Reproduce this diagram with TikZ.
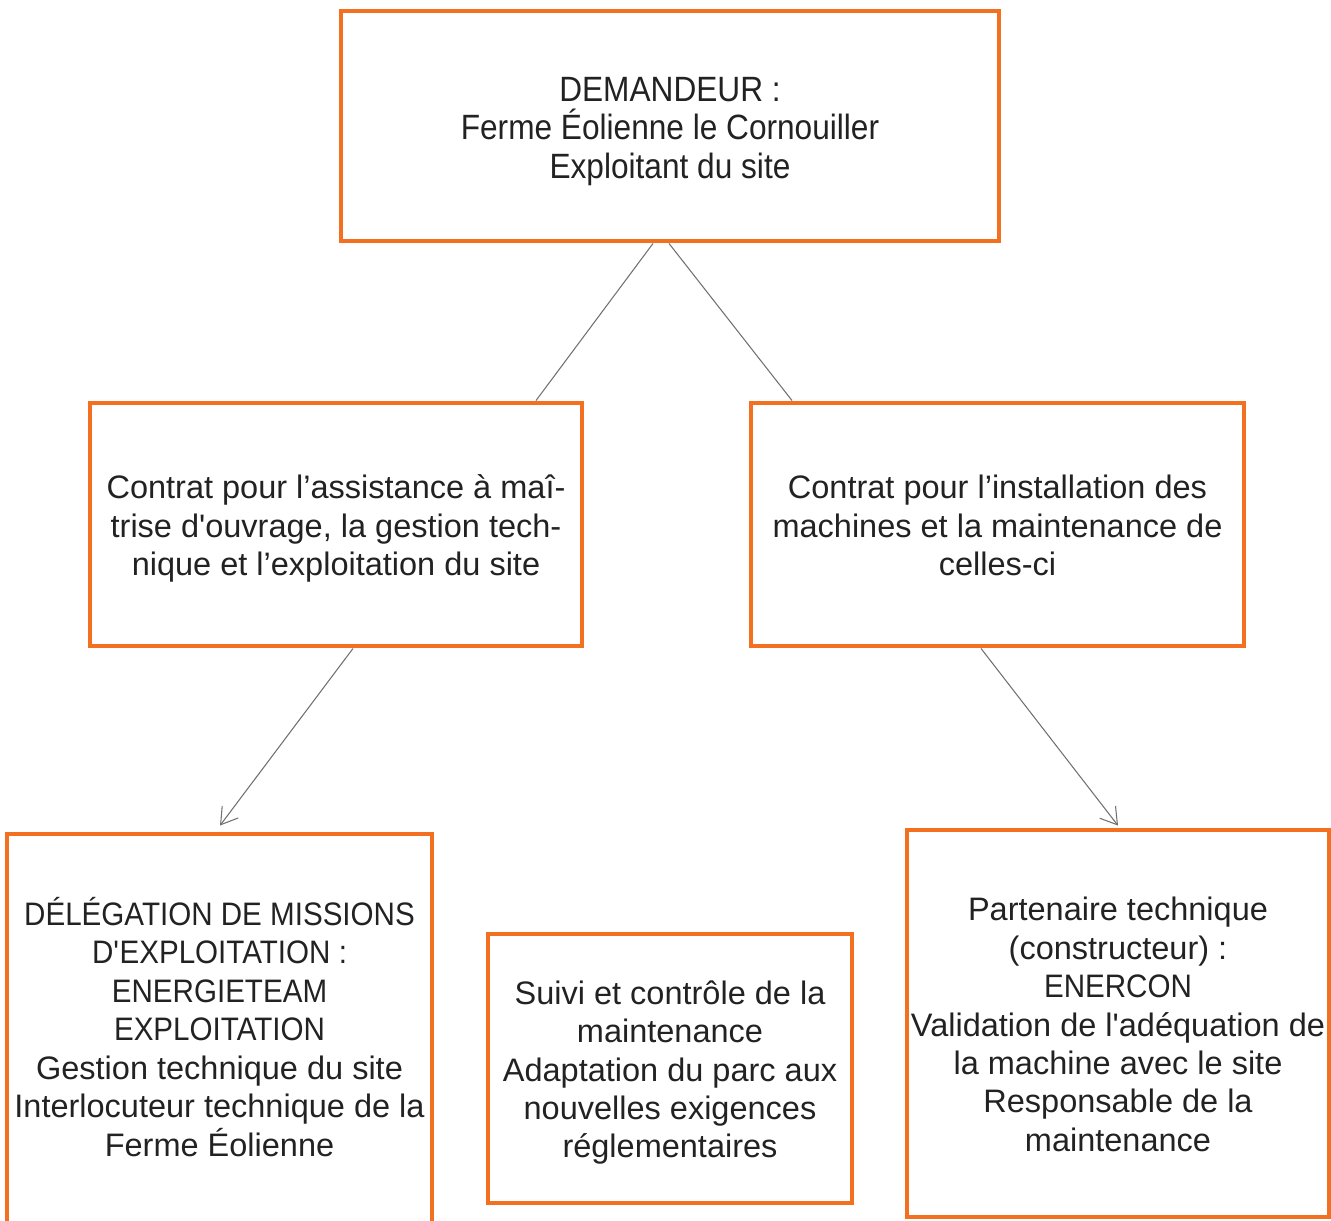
\documentclass[tikz,border=0pt]{standalone}
\usepackage{fontspec}
\setmainfont{Liberation Sans}
\newfontfamily\narrowfont[FakeStretch=0.9]{Liberation Sans}	%top box
\newfontfamily\capsfont[FakeStretch=0.91]{Liberation Sans}		%upper case lines
\usetikzlibrary{calc,arrows.meta}

\definecolor{boxorange}{RGB}{243,112,33}
\definecolor{linkgray}{RGB}{112,112,112}
\definecolor{inkgray}{RGB}{34,34,34}

\newcommand{\lt}{\rule{0pt}{0.99em}}						%same first line height in every box
\newcommand{\linebot}{\rule[-\botdepth]{0pt}{\botdepth}}	%same last line depth
\newcommand{\sq}{\textquotesingle}

\tikzset{
	bot/.store in=\botdepth, bot=0.22em,
	box/.style={draw=boxorange, line width=2.8pt, align=center, text=inkgray,
		font=\fontsize{18.5}{21.9}\selectfont, inner sep=0pt,
		execute at end node=\linebot},
	link/.style={draw=linkgray, line width=0.6pt},
	linkarrow/.style={link, -{Straight Barb[length=3.2mm, width=4mm, line width=0.6pt]}}
}

\begin{document}
\begin{tikzpicture}[x=0.02cm, y=-0.02cm]
	\clip (0,0) rectangle (1331,1220);		%page frame of the reference

	%top level
	\node[box, minimum width=658*0.02cm, minimum height=230*0.02cm, font=\narrowfont\fontsize{20}{21.9}\selectfont] (dem) at (670,126)
		{\lt DEMANDEUR :\\Ferme Éolienne le Cornouiller\\Exploitant du site};

	%contracts
	\node[box, minimum width=492*0.02cm, minimum height=243*0.02cm] (amo) at (336,524.5)
		{\lt Contrat pour l'assistance à maî-\\trise d\sq ouvrage, la gestion tech-\\nique et l'exploitation du site};
	\node[box, minimum width=493*0.02cm, minimum height=243*0.02cm] (inst) at (997.5,524.5)
		{\lt Contrat pour l'installation des\\machines et la maintenance de\\celles-ci};

	%partners
	\node[box, bot=0.29em, minimum width=425*0.02cm, minimum height=391*0.02cm] (deleg) at (219.5,1029.5)
		{\lt{\capsfont DÉLÉGATION DE MISSIONS}\\{\capsfont D\sq EXPLOITATION :}\\{\capsfont ENERGIETEAM}\\{\capsfont EXPLOITATION}\\Gestion technique du site\\Interlocuteur technique de la\\Ferme Éolienne};
	\node[box, minimum width=364*0.02cm, minimum height=269*0.02cm] (suivi) at (670,1068.5)
		{\lt Suivi et contrôle de la\\maintenance\\Adaptation du parc aux\\nouvelles exigences\\réglementaires};
	\node[box, minimum width=422*0.02cm, minimum height=387*0.02cm] (ener) at (1118,1023.5)
		{\lt Partenaire technique\\(constructeur) :\\{\capsfont ENERCON}\\Validation de l\sq adéquation de\\la machine avec le site\\Responsable de la\\maintenance};

	%connectors
	\draw[link] ($(dem.south)+(-17,0)$) -- ($(amo.north)+(200,0)$);
	\draw[link] ($(dem.south)+(-1,0)$) -- ($(inst.north)+(-205.5,0)$);
	\draw[linkarrow] ($(amo.south)+(17,0)$) -- ($(deleg.north)+(0.5,-6)$);
	\draw[linkarrow] ($(inst.south)+(-16.5,0)$) -- ($(ener.north)+(0,-2)$);
\end{tikzpicture}
\end{document}
